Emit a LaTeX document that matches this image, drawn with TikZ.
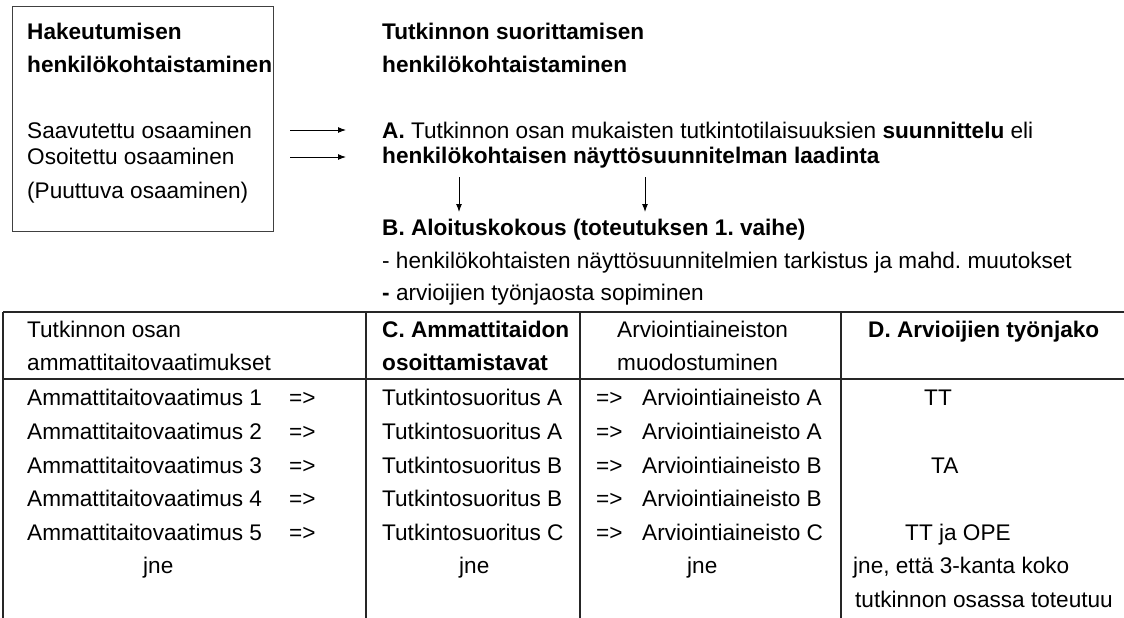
\documentclass[tikz,border=0pt]{standalone}
\usepackage{fontspec}
\setmainfont{Liberation Sans}
\usetikzlibrary{arrows.meta}
\frenchspacing
\begin{document}
\begin{tikzpicture}[x=1pt,y=-1pt,
  txt/.style={inner sep=0pt, anchor=mid west, font=\fontsize{22.6}{27}\selectfont\frenchspacing},
  arr/.style={-{Latex[length=8pt,width=6pt]}, line width=1pt},
  rulest/.style={line width=1.1pt, draw=black!85},
  boxst/.style={draw=black!75, line width=1pt, inner sep=0pt, anchor=north west}]
\useasboundingbox (0,0) rectangle (1124,618);
% left box
\node[boxst, minimum width=261pt, minimum height=225pt] (lbox) at (12,6) {};
\node[txt] (h1) at (27,37) {\bfseries Hakeutumisen};
\node[txt] (h2) at (27,70) {\bfseries henkilökohtaistaminen};
\node[txt] (s1) at (27,136) {Saavutettu osaaminen};
\node[txt] (s2) at (27,162) {Osoitettu osaaminen};
\node[txt] (s3) at (27,196) {(Puuttuva osaaminen)};
% right texts
\node[txt] (t1) at (382,37) {\bfseries Tutkinnon suorittamisen};
\node[txt] (t2) at (382,70) {\bfseries henkilökohtaistaminen};
\node[txt] (a1) at (382,136) {\textbf{A.} Tutkinnon osan mukaisten tutkintotilaisuuksien \textbf{suunnittelu} eli};
\node[txt] (a2) at (382,161) {\bfseries henkilökohtaisen näyttösuunnitelman laadinta};
\node[txt] (b1) at (382,233) {\bfseries B. Aloituskokous (toteutuksen 1. vaihe)};
\node[txt] (b2) at (382,266) {- henkilökohtaisten näyttösuunnitelmien tarkistus ja mahd. muutokset};
\node[txt] (b3) at (382,298) {\textbf{-} arvioijien työnjaosta sopiminen};
% arrows
\coordinate (r1s) at (290,130); \coordinate (r1e) at (346,130);
\coordinate (r2s) at (290,157); \coordinate (r2e) at (346,157);
\coordinate (d1s) at (459,177); \coordinate (d1e) at (459,212);
\coordinate (d2s) at (645,177); \coordinate (d2e) at (645,212);
\draw[arr] (r1s) -- (r1e);
\draw[arr] (r2s) -- (r2e);
\draw[arr] (d1s) -- (d1e);
\draw[arr] (d2s) -- (d2e);
% table lines
\draw[rulest] (3,312) -- (1124,312);
\draw[rulest] (3,379) -- (1124,379);
\foreach \cx in {3,366,580,841} \draw[rulest] (\cx,312) -- (\cx,618);
% header
\node[txt] (c1a) at (27,335) {Tutkinnon osan};
\node[txt] (c1b) at (27,368) {ammattitaitovaatimukset};
\node[txt] (c2a) at (382,335) {\bfseries C. Ammattitaidon};
\node[txt] (c2b) at (382,368) {\bfseries osoittamistavat};
\node[txt] (c3a) at (617,335) {Arviointiaineiston};
\node[txt] (c3b) at (617,368) {muodostuminen};
\node[txt] (c4a) at (868,335) {\bfseries D. Arvioijien työnjako};
% rows
\foreach \i/\y/\s/\a in {1/403/A/A, 2/437/A/A, 3/471/B/B, 4/504/B/B, 5/538/C/C} {
  \node[txt] (req\i) at (27,\y) {Ammattitaitovaatimus \i};
  \node[txt] (ra\i) at (289,\y) {=>};
  \node[txt] (ts\i) at (382,\y) {Tutkintosuoritus \s};
  \node[txt] (rb\i) at (596,\y) {=>};
  \node[txt] (ai\i) at (642,\y) {Arviointiaineisto \a};
}
\node[txt] (j1) at (143,571) {jne};
\node[txt] (j2) at (459,571) {jne};
\node[txt] (j3) at (687,571) {jne};
\node[txt] (d1) at (924,403) {TT};
\node[txt] (d3) at (931,471) {TA};
\node[txt] (d5) at (905,538) {TT ja OPE};
\node[txt] (d6) at (853,571) {jne, että 3-kanta koko};
\node[txt] (d7) at (855,605) {tutkinnon osassa toteutuu};
\end{tikzpicture}
\end{document}
